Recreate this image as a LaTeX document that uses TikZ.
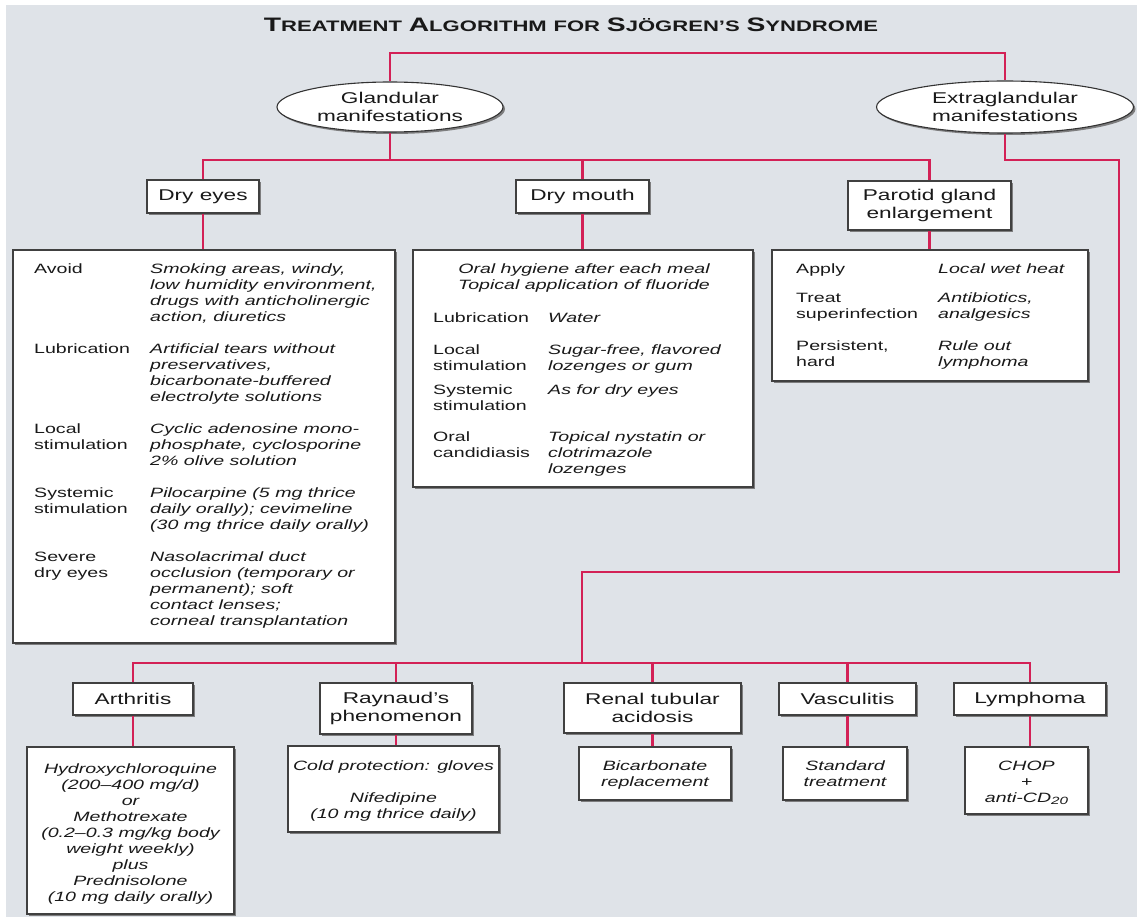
\documentclass[tikz,border=0pt]{standalone}
\usepackage{fontspec}
\usepackage{array}
\setmainfont{Liberation Sans}[FakeStretch=1.45]
\usetikzlibrary{shapes.geometric,shadows}
\definecolor{bgc}{RGB}{223,227,232}
\definecolor{lnc}{RGB}{211,33,86}
\definecolor{txc}{RGB}{25,25,25}
\newcommand\hdf{\fontsize{15.6}{18}\selectfont}
\newcommand\bdf{\fontsize{13.5}{16}\selectfont}
\newcommand\tsc[2]{{\fontsize{19.5}{20}\selectfont #1}{\fontsize{15.2}{16}\selectfont #2}}
\begin{document}
\begin{tikzpicture}[x=1pt,y=-1pt,font=\bdf,text=txc,
  shadowed/.style={drop shadow={shadow xshift=2pt,shadow yshift=-2pt,fill=black!55,opacity=0.9}},
  conn/.style={draw=lnc,line width=2.8pt},
  hbox/.style={draw=black!75,line width=1.1pt,fill=white,font=\hdf,align=center,inner sep=0pt,shadowed},
  cbox/.style={draw=black!75,line width=1.1pt,fill=white,inner sep=0pt,shadowed},
  oval/.style={ellipse,draw=black!80,line width=1.1pt,fill=white,font=\hdf,align=center,inner sep=0pt,shadowed},
  txt/.style={inner sep=0pt,font=\bdf}]
\useasboundingbox (0,0) rectangle (1137,917);
\fill[white] (0,0) rectangle (1137,917);
\fill[bgc] (6,5) rectangle (1137,917);

% title
\node[inner sep=0pt,font=\bfseries\fontsize{17}{20}\selectfont] (title) at (571,25)
  {\tsc{T}{REATMENT} \tsc{A}{LGORITHM} {\fontsize{15.2}{16}\selectfont FOR} \tsc{S}{JÖGREN'S} \tsc{S}{YNDROME}};

% ellipses
\node[oval,minimum width=226pt,minimum height=50pt] (gland) at (390,107) {Glandular\\manifestations};
\node[oval,minimum width=257pt,minimum height=52pt] (extra) at (1005,107) {Extraglandular\\manifestations};

% header boxes
\node[hbox,minimum width=112pt,minimum height=33pt] (dryeyes) at (203,196.5) {Dry eyes};
\node[hbox,minimum width=133pt,minimum height=33pt] (drymouth) at (582.5,196.5) {Dry mouth};
\node[hbox,minimum width=163pt,minimum height=49pt] (parotid) at (929.5,205.5) {Parotid gland\\enlargement};
\node[hbox,minimum width=120pt,minimum height=32pt] (arthritis) at (133,699) {Arthritis};
\node[hbox,minimum width=152pt,minimum height=51pt] (raynaud) at (396,708.5) {Raynaud's\\phenomenon};
\node[hbox,minimum width=177pt,minimum height=50pt] (renal) at (652.5,708) {Renal tubular\\acidosis};
\node[hbox,minimum width=137pt,minimum height=32pt] (vasc) at (847.5,699) {Vasculitis};
\node[hbox,minimum width=152pt,minimum height=32pt] (lymph) at (1030,699) {Lymphoma};

% content boxes
\node[cbox,minimum width=382pt,minimum height=393pt] (deC) at (204,446.5) {};
\node[cbox,minimum width=340pt,minimum height=237pt] (dmC) at (583,368.5) {};
\node[cbox,minimum width=316pt,minimum height=131pt] (paC) at (930,315.5) {};
\node[cbox,minimum width=207pt,minimum height=167pt] (arC) at (130.5,830.5) {};
\node[cbox,minimum width=211pt,minimum height=86pt] (raC) at (393.5,789) {};
\node[cbox,minimum width=152pt,minimum height=53pt] (reC) at (655,773.5) {};
\node[cbox,minimum width=124pt,minimum height=53pt] (vaC) at (845,773.5) {};
\node[cbox,minimum width=123pt,minimum height=67pt] (lyC) at (1026.5,780.5) {};

% content texts
\node[txt,anchor=base west] (deT) at (34,273) {\begin{tabular}[t]{@{}p{116pt}@{}>{\itshape}l@{}}
Avoid & Smoking areas, windy,\\
 & low humidity environment,\\
 & drugs with anticholinergic\\
 & action, diuretics\\[16pt]
Lubrication & Artificial tears without\\
 & preservatives,\\
 & bicarbonate-buffered\\
 & electrolyte solutions\\[16pt]
Local & Cyclic adenosine mono-\\
stimulation & phosphate, cyclosporine\\
 & 2\% olive solution\\[16pt]
Systemic & Pilocarpine (5 mg thrice\\
stimulation & daily orally); cevimeline\\
 & (30 mg thrice daily orally)\\[16pt]
Severe & Nasolacrimal duct\\
dry eyes & occlusion (temporary or\\
 & permanent); soft\\
 & contact lenses;\\
 & corneal transplantation
\end{tabular}};

\node[txt,anchor=base] (dmT1) at (584,273) {\begin{tabular}[t]{@{}>{\itshape}c@{}}
Oral hygiene after each meal\\
Topical application of fluoride
\end{tabular}};
\node[txt,anchor=base west] (dmT2) at (433,322) {\begin{tabular}[t]{@{}p{115pt}@{}>{\itshape}l@{}}
Lubrication & Water\\[16pt]
Local & Sugar-free, flavored\\
stimulation & lozenges or gum\\[8pt]
Systemic & As for dry eyes\\
stimulation & \\[15pt]
Oral & Topical nystatin or\\
candidiasis & clotrimazole\\
 & lozenges
\end{tabular}};

\node[txt,anchor=base west] (paT) at (796,273) {\begin{tabular}[t]{@{}p{142pt}@{}>{\itshape}l@{}}
Apply & Local wet heat\\[13pt]
Treat & Antibiotics,\\
superinfection & analgesics\\[16pt]
Persistent, & Rule out\\
hard & lymphoma
\end{tabular}};

\node[txt,anchor=base] (arT) at (130.5,773) {\begin{tabular}[t]{@{}>{\itshape}c@{}}
Hydroxychloroquine\\
(200–400 mg/d)\\
or\\
Methotrexate\\
(0.2–0.3 mg/kg body\\
weight weekly)\\
plus\\
Prednisolone\\
(10 mg daily orally)
\end{tabular}};
\node[txt,anchor=base] (raT) at (393.5,770) {\begin{tabular}[t]{@{}>{\itshape}c@{}}
Cold protection: gloves\\[16pt]
Nifedipine\\
(10 mg thrice daily)
\end{tabular}};
\node[txt,anchor=base] (reT) at (655,770) {\begin{tabular}[t]{@{}>{\itshape}c@{}}
Bicarbonate\\
replacement
\end{tabular}};
\node[txt,anchor=base] (vaT) at (845,770) {\begin{tabular}[t]{@{}>{\itshape}c@{}}
Standard\\
treatment
\end{tabular}};
\node[txt,anchor=base] (lyT) at (1026.5,770) {\begin{tabular}[t]{@{}>{\itshape}c@{}}
CHOP\\
+\\
anti-CD\raisebox{-2.5pt}{\fontsize{10.5}{12}\selectfont 20}
\end{tabular}};

% connectors
\coordinate (topbar) at (0,53);
\coordinate (gbar) at (0,160);
\coordinate (eright) at (1119,160);
\coordinate (eturn) at (1119,572);
\coordinate (eleft) at (582,572);
\coordinate (ebar) at (0,663);

\draw[conn] (gland.north) -- (gland.north |- topbar) -| (extra.north);
\draw[conn] (gland.south) -- (gland.south |- gbar);
\draw[conn] (dryeyes.north) |- (parotid.north |- gbar) -- (parotid.north);
\draw[conn] (drymouth.north) -- (drymouth.north |- gbar);
\draw[conn] (extra.south) |- (eright) -- (eturn) -- (eleft) -- (eleft |- ebar);
\draw[conn] (arthritis.north) |- (lymph.north |- ebar) -- (lymph.north);
\draw[conn] (raynaud.north) -- (raynaud.north |- ebar);
\draw[conn] (renal.north) -- (renal.north |- ebar);
\draw[conn] (vasc.north) -- (vasc.north |- ebar);

\draw[conn] (dryeyes.south) -- (dryeyes.south |- deC.north);
\draw[conn] (drymouth.south) -- (drymouth.south |- dmC.north);
\draw[conn] (parotid.south) -- (parotid.south |- paC.north);
\draw[conn] (arthritis.south) -- (arthritis.south |- arC.north);
\draw[conn] (raynaud.south) -- (raynaud.south |- raC.north);
\draw[conn] (renal.south) -- (renal.south |- reC.north);
\draw[conn] (vasc.south) -- (vasc.south |- vaC.north);
\draw[conn] (lymph.south) -- (lymph.south |- lyC.north);
\end{tikzpicture}
\end{document}
